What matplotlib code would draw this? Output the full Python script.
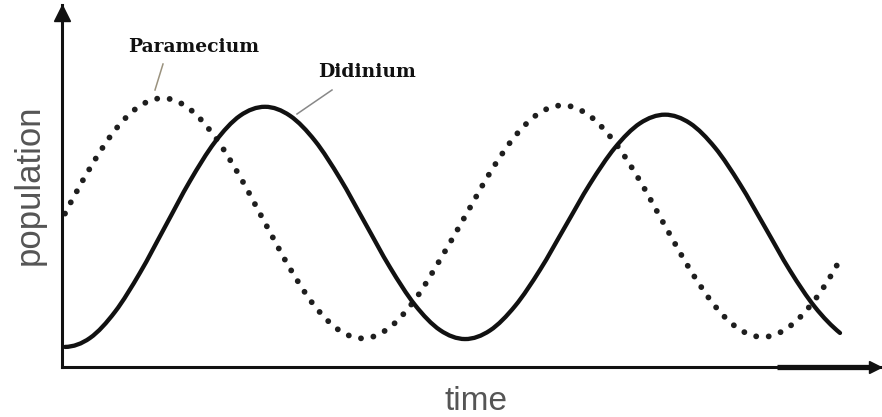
import numpy as np
import matplotlib
matplotlib.use("Agg")
from matplotlib import pyplot as plt
from matplotlib.path import Path
from matplotlib.patches import PathPatch
from matplotlib.lines import Line2D

# population samples, every half time unit
time = np.arange(0, 16, 0.5)
paramecium = [42.8, 55.5, 66.1, 72.9, 75.0, 71.9, 64.2, 53.1,
              40.2, 27.5, 16.9, 10.1, 8.0, 11.1, 18.8, 29.9,
              42.0, 54.2, 64.4, 71.0, 73.0, 70.0, 62.6, 51.9,
              39.4, 27.2, 17.0, 10.4, 8.4, 11.4, 18.8, 30.0]
didinium = [5.6, 8.1, 15.4, 26.3, 39.1, 51.9, 62.8, 70.1,
            72.6, 70.1, 63.1, 52.6, 40.2, 27.8, 17.3, 10.3,
            7.8, 10.2, 17.0, 27.1, 39.1, 51.1, 61.2, 68.0,
            70.4, 68.0, 61.2, 51.0, 39.0, 26.9, 16.7, 9.5]

W, H = 882, 417


def smooth_path(xs, ys):
    # catmull-rom through the samples, written as cubic bezier pieces
    pts = np.column_stack([xs, ys])
    # quadratic extrapolation for the phantom end points
    head = 3 * pts[0] - 3 * pts[1] + pts[2]
    tail = 3 * pts[-1] - 3 * pts[-2] + pts[-3]
    ext = np.vstack([head, pts, tail])
    verts = [pts[0]]
    codes = [Path.MOVETO]
    for i in range(1, len(ext) - 2):
        p0, p1, p2, p3 = ext[i - 1], ext[i], ext[i + 1], ext[i + 2]
        verts += [p1 + (p2 - p0) / 6, p2 - (p3 - p1) / 6, p2]
        codes += [Path.CURVE4] * 3
    return Path(verts, codes)


fig = plt.figure(figsize=(W / 100, H / 100), dpi=100)
ax = fig.add_axes([62 / W, (H - 367) / H, (W - 62) / W, (367 - 5) / H])
ax.set_xlim(-0.06, 16.34)
ax.set_ylim(0, 101)

# Paramecium: dotted
p = PathPatch(smooth_path(time, paramecium), transform=ax.transData,
              fill=False, edgecolor='#1e1e1e', linewidth=4.2,
              linestyle=(0, (0.01, 2.15)))
p.set_capstyle('round')
ax.add_patch(p)

# Didinium: solid
d = PathPatch(smooth_path(time, didinium), transform=ax.transData,
              fill=False, edgecolor='#111111', linewidth=3.1)
d.set_capstyle('round')
ax.add_patch(d)

# Axes with arrow heads
for side in ['top', 'right']:
    ax.spines[side].set_visible(False)
for side in ['left', 'bottom']:
    ax.spines[side].set_linewidth(2.2)
    ax.spines[side].set_color('#111111')
ax.set_xticks([])
ax.set_yticks([])
ax.patch.set_alpha(0)
ax.plot(0, 0.979, '^', color='#111111', ms=11, transform=ax.transAxes, clip_on=False)
ax.plot(0.992, 0, '>', color='#111111', ms=9, transform=ax.transAxes, clip_on=False)
ax.plot([0.872, 0.985], [0, 0], color='#111111', lw=3.8, transform=ax.transAxes,
        clip_on=False, solid_capstyle='butt')

# Axis titles
fig.text(29 / W, (H - 185) / H, 'population', rotation=90, ha='center', va='center',
         fontsize=25, color='#555555', family='Liberation Sans')
fig.text(476 / W, (H - 410) / H, 'time', ha='center', va='baseline',
         fontsize=24, color='#555555', family='Liberation Sans')

# Series labels with leader lines
fig.text(128 / W, (H - 52) / H, 'Paramecium', ha='left', va='baseline',
         fontsize=13.5, fontweight='bold', family='DejaVu Serif', color='#111111')
fig.text(318 / W, (H - 77) / H, 'Didinium', ha='left', va='baseline',
         fontsize=13.5, fontweight='bold', family='DejaVu Serif', color='#111111')
fig.add_artist(Line2D([163 / W, 155 / W], [(H - 64) / H, (H - 90) / H],
                      color='#9a927e', lw=1.1))
fig.add_artist(Line2D([332 / W, 297 / W], [(H - 90) / H, (H - 114) / H],
                      color='#888888', lw=1.1))

fig.savefig('out.png', dpi=100)
